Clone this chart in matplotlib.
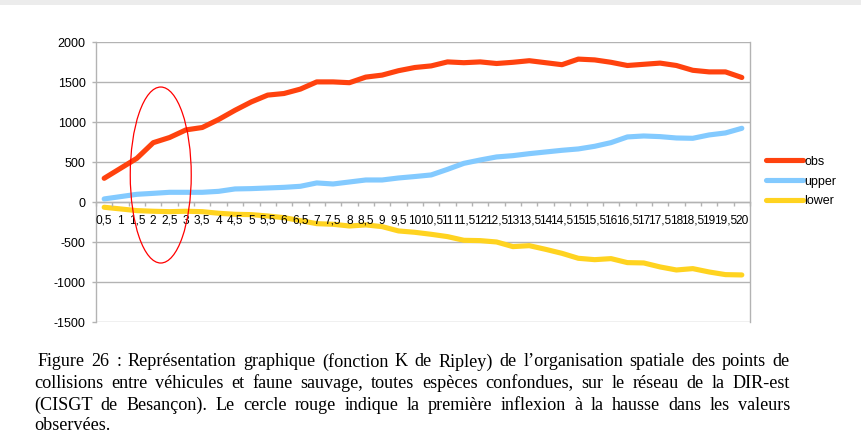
import numpy as np
import matplotlib
matplotlib.use("Agg")
import matplotlib.pyplot as plt
from matplotlib.patches import Ellipse, Rectangle

# ---------------- data ----------------
categories = ["0,5", "1", "1,5", "2", "2,5", "3", "3,5", "4", "4,5", "5",
              "5,5", "6", "6,5", "7", "7,5", "8", "8,5", "9", "9,5", "10",
              "10,5", "11", "11,5", "12", "12,5", "13", "13,5", "14", "14,5", "15",
              "15,5", "16", "16,5", "17", "17,5", "18", "18,5", "19", "19,5", "20"]
obs = [300, 425, 550, 745, 810, 905, 935, 1035, 1150, 1255,
       1340, 1360, 1415, 1505, 1505, 1495, 1565, 1590, 1645, 1685,
       1705, 1755, 1745, 1755, 1735, 1750, 1770, 1745, 1720, 1790,
       1780, 1750, 1710, 1725, 1740, 1710, 1650, 1630, 1630, 1560]
upper = [42, 71, 100, 112, 125, 125, 125, 137, 167, 171,
         179, 187, 200, 242, 229, 254, 279, 279, 304, 322,
         342, 412, 487, 529, 567, 583, 608, 629, 650, 667,
         700, 746, 817, 829, 821, 804, 800, 842, 867, 925]
lower = [-62, -83, -104, -112, -117, -112, -117, -137, -150, -154,
         -171, -192, -229, -267, -275, -296, -283, -304, -358, -375,
         -400, -429, -475, -479, -496, -554, -542, -588, -638, -700,
         -717, -704, -754, -758, -808, -846, -829, -871, -904, -908]
series_names = ["obs", "upper", "lower"]
series_colors = ["#FF420E", "#83CAFF", "#FFD320"]
y_ticks = [-1500, -1000, -500, 0, 500, 1000, 1500, 2000]

caption_lines = [
    "Figure 26 : Représentation graphique (fonction K de Ripley) de l’organisation spatiale des points de",
    "collisions entre véhicules et faune sauvage, toutes espèces confondues, sur le réseau de la DIR-est",
    "(CISGT de Besançon). Le cercle rouge indique la première inflexion à la hausse dans les valeurs",
    "observées.",
]

# ---------------- figure ----------------
W, H = 861, 437
fig = plt.figure(figsize=(W / 100, H / 100), dpi=100)
fig.patch.set_facecolor("white")

# light grey band at top of the page
fig.patches.append(Rectangle((0, 1 - 5 / H), 1, 5 / H, transform=fig.transFigure,
                             facecolor="#ececec", edgecolor="none", zorder=0))

L, R, T, B = 96, 750, 42.3, 322.3
ax = fig.add_axes([L / W, 1 - B / H, (R - L) / W, (B - T) / H])

grid_c = "#b3b3b3"
x = np.arange(len(categories))
ax.set_xlim(-0.5, len(categories) - 0.5)
ax.set_ylim(-1500, 2000)

for yv in y_ticks:
    ax.axhline(yv, color=grid_c, lw=1.0, zorder=1)

for vals, name, col in zip([obs, upper, lower], series_names, series_colors):
    ax.plot(x, vals, color=col, lw=3.7, solid_joinstyle="round",
            solid_capstyle="round", label=name, zorder=3)

# spines
ax.spines["top"].set_visible(False)
ax.spines["bottom"].set_position(("data", 0))
ax.spines["bottom"].set_color(grid_c)
ax.spines["left"].set_color(grid_c)
ax.spines["right"].set_color(grid_c)
for s in ["bottom", "left", "right"]:
    ax.spines[s].set_linewidth(1.0)

fs_ax = "Liberation Sans"
ax.set_yticks(y_ticks)
ax.set_yticklabels([str(v) for v in y_ticks], fontsize=9, family=fs_ax)
ax.tick_params(axis="y", length=3, color=grid_c, pad=4.5, width=1.0)

ax.set_xticks(x)
ax.set_xticklabels(categories, fontsize=8.6, family=fs_ax)
ax.set_xticks(np.arange(len(categories) + 1) - 0.5, minor=True)
ax.tick_params(axis="x", which="major", length=0, pad=9)
ax.tick_params(axis="x", which="minor", length=3, color=grid_c, width=1.0)
ax.xaxis.set_zorder(4)

# red ellipse
ell = Ellipse((3.46, 341), width=3.73, height=2200, fill=False,
              edgecolor="#ff0000", lw=0.9, zorder=5)
ax.add_patch(ell)

# legend
leg = ax.legend(loc="center left", bbox_to_anchor=(766 / W, 1 - 181.5 / H),
                bbox_transform=fig.transFigure, frameon=False,
                prop={"family": fs_ax, "size": 9}, handlelength=2.95,
                handletextpad=0.1, labelspacing=0.62, borderpad=0,
                borderaxespad=0)

# caption, justified
cap_fs = 13.1
cap_family = "Liberation Serif"
left_px, right_px = 34, 790
line_y = [366.5, 388, 409.5, 430.5]
fig.canvas.draw()
renderer = fig.canvas.get_renderer()


def width_of(s):
    t = fig.text(0, 0, s, fontsize=cap_fs, family=cap_family)
    w = t.get_window_extent(renderer=renderer).width
    t.remove()
    return w


for i, line in enumerate(caption_lines):
    words = line.split(" ")
    yfig = 1 - line_y[i] / H
    start = left_px + (4 if i == 0 else 0)
    if i == len(caption_lines) - 1:
        fig.text(start / W, yfig, line, fontsize=cap_fs, family=cap_family,
                 va="baseline", ha="left")
        continue
    widths = [width_of(w_) for w_ in words]
    gap = (right_px - start - sum(widths)) / (len(words) - 1)
    xpos = start
    for w_, wd in zip(words, widths):
        fig.text(xpos / W, yfig, w_, fontsize=cap_fs, family=cap_family,
                 va="baseline", ha="left")
        xpos += wd + gap

fig.savefig("out.png", dpi=100)
